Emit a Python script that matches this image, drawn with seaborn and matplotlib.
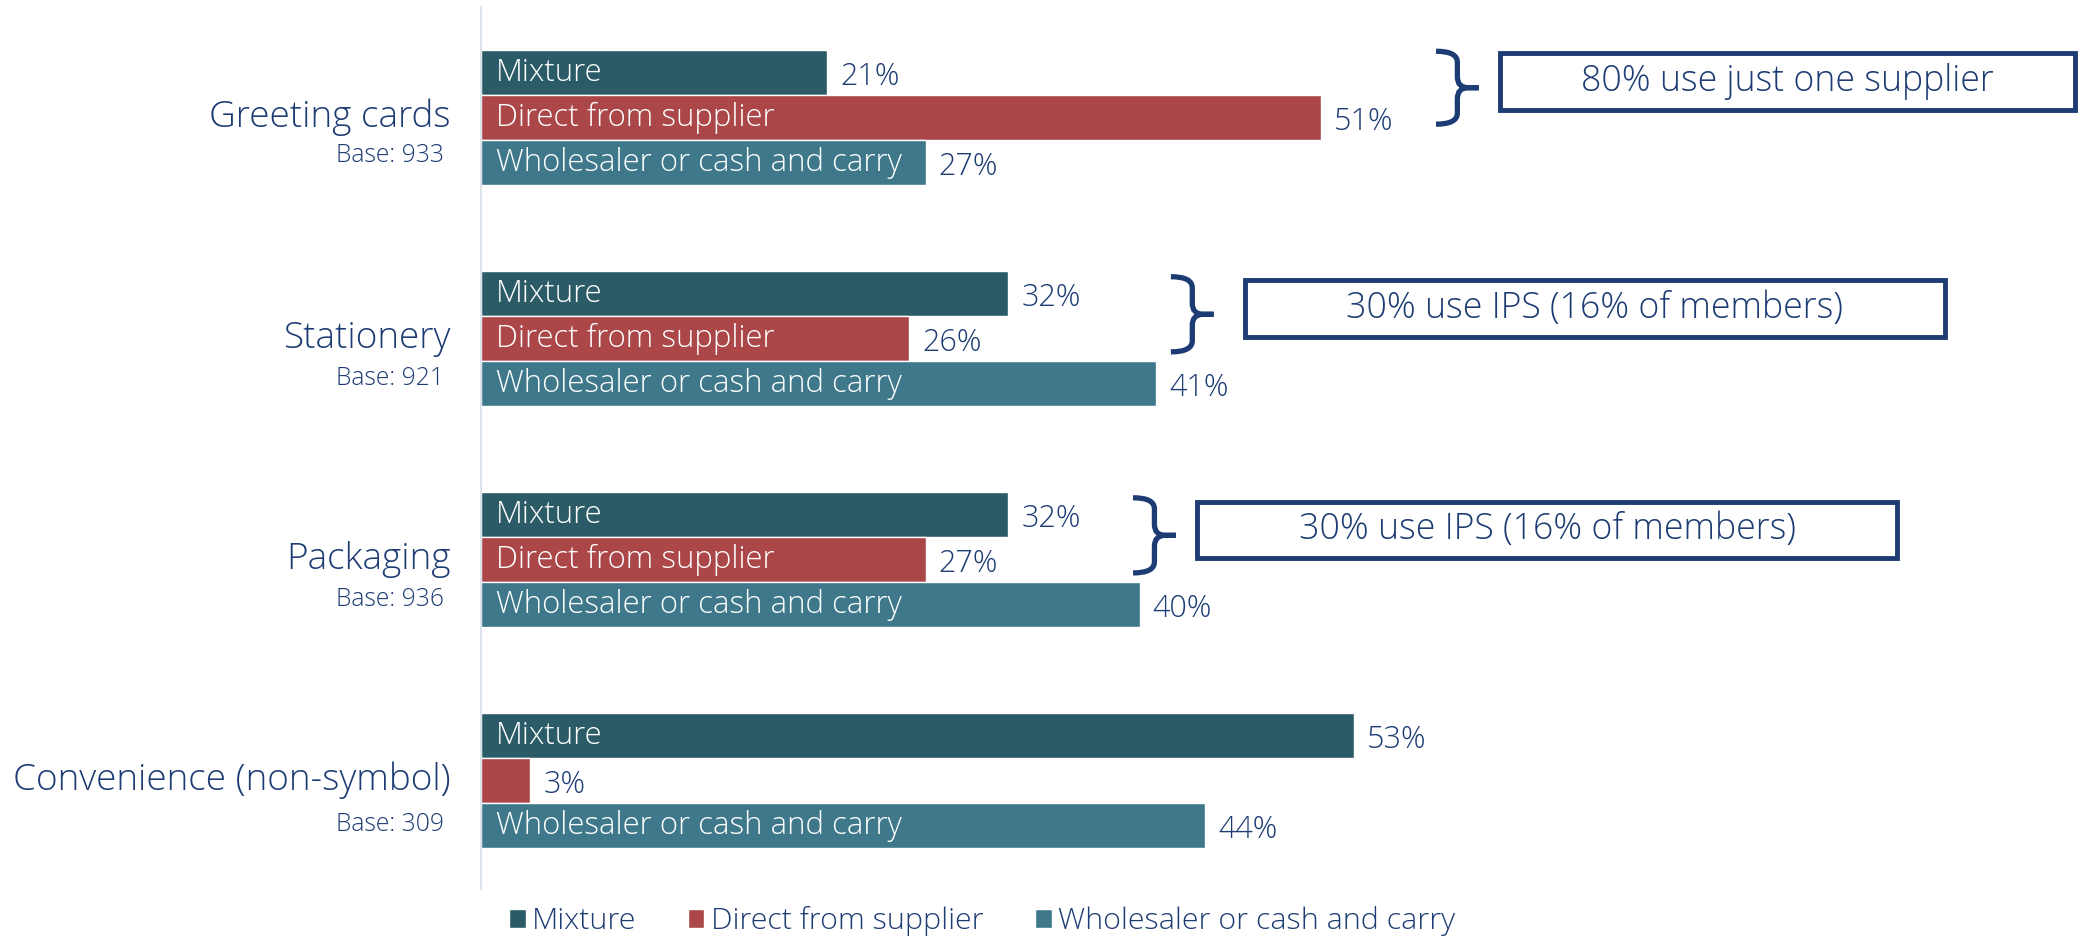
import matplotlib
matplotlib.use('Agg')
import matplotlib.pyplot as plt
import seaborn as sns
import pandas as pd
from matplotlib.patches import Patch, Rectangle, PathPatch
from matplotlib.path import Path

# Chart data
categories = ['Greeting cards', 'Stationery', 'Packaging', 'Convenience (non-symbol)']
bases = ['Base: 933', 'Base: 921', 'Base: 936', 'Base: 309']
series = ['Mixture', 'Direct from supplier', 'Wholesaler or cash and carry']
mixture = [21, 32, 32, 53]
direct = [51, 26, 27, 3]
wholesaler = [27, 41, 40, 44]
callouts = ['80% use just one supplier', '30% use IPS (16% of members)', '30% use IPS (16% of members)']

colors = ['#2B5B66', '#AB4649', '#3E788A']
navy = '#1D3C74'

sns.set_theme(style='white')
plt.rcParams['font.family'] = ['Open Sans', 'DejaVu Sans']
plt.rcParams['font.weight'] = 'light'

df = pd.DataFrame({
    'category': categories * 3,
    'series': [s for s in series for _ in categories],
    'value': mixture + direct + wholesaler,
})

fig = plt.figure(figsize=(20.87, 9.38), dpi=100)
ax = fig.add_axes([0.2305, 0.0522, 0.710, 0.9403])

sns.barplot(data=df, y='category', x='value', hue='series', order=categories,
            hue_order=series, palette=colors, saturation=1, orient='h', width=0.61, gap=0,
            edgecolor='white', linewidth=1, legend=False, ax=ax)

ax.set_xlim(0, 90)
ax.set_ylim(3.49, -0.5)
ax.set_xlabel('')
ax.set_ylabel('')
ax.set_xticks([])
ax.set_yticks([])
for s in ['top', 'right', 'bottom']:
    ax.spines[s].set_visible(False)
ax.spines['left'].set_color('#DDE4EC')
ax.spines['left'].set_linewidth(1.5)

# labels inside and after the bars
for name, cont in zip(series, ax.containers):
    for bar in cont:
        v = bar.get_width()
        yc = bar.get_y() + bar.get_height() / 2
        if v > 10:
            ax.text(0.9, yc, name, color='white', fontsize=22.4, va='center', ha='left')
        ax.text(v + 0.8, yc + 0.02, f'{v:.0f}%', color=navy, fontsize=22, va='center', ha='left')

# category labels with base sizes
ytr = ax.get_yaxis_transform()
base_off = [0.17, 0.18, 0.18, 0.2]
for i, (cat, base) in enumerate(zip(categories, bases)):
    ax.annotate(cat, xy=(0, i), xycoords=ytr, xytext=(-22, 0), textcoords='offset points',
                ha='right', va='center', fontsize=26.6, color=navy)
    ax.annotate(base, xy=(0, i + base_off[i]), xycoords=ytr, xytext=(-27, 0),
                textcoords='offset points', ha='right', va='center', fontsize=17.7, color=navy)


def draw_brace(ax, x0, y_top, y_bot, w):
    ym = (y_top + y_bot) / 2
    xm = x0 + w * 0.5
    ry = 0.05
    rx = w * 0.25
    for ya, sgn in [(y_top, 1), (y_bot, -1)]:
        verts = [(x0, ya), (xm, ya), (xm, ya + sgn * ry),
                 (xm, ym - sgn * ry), (xm, ym), (xm + rx, ym), (x0 + w, ym)]
        codes = [Path.MOVETO, Path.CURVE3, Path.CURVE3,
                 Path.LINETO, Path.CURVE3, Path.CURVE3, Path.LINETO]
        ax.add_patch(PathPatch(Path(verts, codes), fill=False, edgecolor=navy,
                               linewidth=3.8, clip_on=False, capstyle='butt'))


# brace + box callouts: (brace x, brace top, brace bottom, box x0, box x1, box top, box bottom)
spots = [(58.0, -0.30, 0.03, 61.9, 96.8, -0.294, -0.036),
         (41.9, 0.72, 1.06, 46.4, 88.9, 0.733, 0.991),
         (39.6, 1.72, 2.06, 43.5, 86.0, 1.738, 1.991)]
for txt, (bx, bt, bb, x0, x1, yt, yb) in zip(callouts, spots):
    draw_brace(ax, bx, bt, bb, 2.6)
    ax.add_patch(Rectangle((x0, yt), x1 - x0, yb - yt, fill=False, edgecolor=navy,
                           linewidth=3.5, clip_on=False))
    ax.text((x0 + x1) / 2, (yt + yb) / 2, txt, ha='center', va='center',
            fontsize=25.7, color=navy, clip_on=False)

handles = [Patch(facecolor=c, label=s) for c, s in zip(colors, series)]
fig.legend(handles=handles, loc='center left', bbox_to_anchor=(0.238, 0.018), ncol=3,
           frameon=False, fontsize=21.9, labelcolor=navy, handlelength=0.55, handleheight=0.55,
           handletextpad=0.2, columnspacing=1.7, borderaxespad=0)

fig.savefig('out.png', dpi=100)
